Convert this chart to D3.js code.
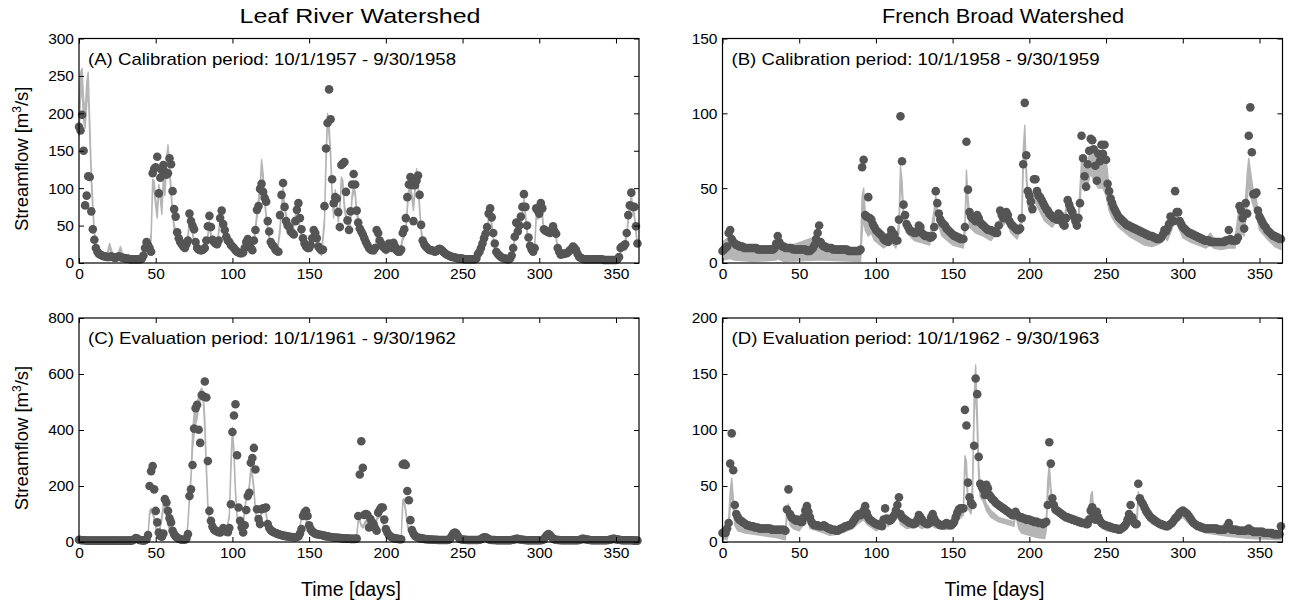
<!DOCTYPE html>
<html>
<head>
<meta charset="utf-8">
<script src="https://cdn.jsdelivr.net/npm/d3@7/dist/d3.min.js"></script>
<style>
body{margin:0;background:#fff;}
svg{display:block;}
</style>
</head>
<body>
<svg></svg>
<script>
// ---- tick values ----
const xTicks = [0,50,100,150,200,250,300,350];
const yTicksA = [0,50,100,150,200,250,300];
const yTicksB = [0,50,100,150];
const yTicksC = [0,200,400,600,800];
const yTicksD = [0,50,100,150,200];

const titles = ['Leaf River Watershed','French Broad Watershed'];
const panelLabels = [
  '(A) Calibration period: 10/1/1957 - 9/30/1958',
  '(B) Calibration period: 10/1/1958 - 9/30/1959',
  '(C) Evaluation period: 10/1/1961 - 9/30/1962',
  '(D) Evaluation period: 10/1/1962 - 9/30/1963'
];

// ---- observed daily streamflow (dots), day 0..364 ----
const obsA = [
182,177,198,150,77,90,116,115,69,45,
31,20,15,12,11,10,9,9,8,8,
8,9,8,7,7,8,9,8,7,7,
6,6,6,5,5,5,5,5,5,5,
5,6,10,20,28,24,20,15,120,126,
128,142,93,114,124,131,122,118,120,140,
132,96,72,62,41,33,28,25,22,20,
25,30,66,56,50,45,28,20,18,17,
17,18,20,30,49,63,48,31,28,26,
25,30,60,70,52,44,35,30,28,24,
22,20,17,15,14,13,13,14,20,28,
32,27,20,17,30,44,71,76,99,106,
95,87,82,56,42,28,24,22,18,16,
15,64,91,107,75,56,50,48,42,40,
38,56,71,80,60,45,33,26,22,20,
20,24,33,44,40,33,22,19,17,18,
76,153,187,232,192,112,80,88,86,68,
48,131,133,135,95,57,44,69,105,119,
105,70,54,46,42,38,33,28,24,20,
18,17,17,20,44,40,30,26,22,20,
18,22,26,24,20,27,22,17,15,15,
18,40,45,60,88,105,115,104,56,104,
110,117,91,51,30,25,22,20,18,17,
17,16,15,16,18,19,18,16,14,12,
11,10,9,8,8,7,7,6,6,6,
6,5,5,5,5,5,5,5,5,6,
12,15,20,26,33,39,48,66,73,61,
40,26,15,12,10,8,7,6,6,5,
5,6,10,20,35,54,42,50,62,75,
92,75,50,34,23,18,15,20,73,70,
66,80,73,45,43,42,41,40,44,49,
42,39,20,15,11,12,12,13,13,15,
17,19,22,20,17,12,8,7,6,5,
5,5,5,5,5,5,5,5,5,5,
5,5,4,4,4,4,4,4,4,4,
4,5,8,20,22,22,25,40,64,77,
94,75,75,49,26
];

const obsB = [
8,9,10,11,20,22,16,14,13,12,
12,11,11,11,10,10,10,10,10,10,
10,10,10,9,9,9,9,9,9,9,
9,9,9,9,10,13,18,14,12,11,
11,10,10,10,10,10,9,9,9,9,
9,9,9,9,9,8,8,8,9,10,
12,16,20,25,14,12,11,11,10,10,
10,10,9,9,9,9,9,9,9,9,
9,9,8,8,8,8,8,8,8,8,
9,64,69,32,31,44,30,29,26,24,
22,21,20,19,18,16,15,15,14,18,
22,20,19,15,15,29,98,68,39,32,
26,24,22,21,21,20,20,21,25,24,
20,19,18,18,18,17,17,18,24,48,
40,33,29,27,26,25,23,22,21,20,
19,18,18,17,17,16,16,16,24,81,
49,34,31,30,29,28,32,30,27,26,
25,24,23,22,22,22,21,21,20,20,
25,35,32,30,32,34,32,28,26,25,
24,23,22,22,23,30,66,107,72,48,
45,41,36,56,56,48,45,44,42,40,
38,36,35,33,32,31,30,30,29,33,
32,28,26,25,30,42,39,36,34,31,
28,25,30,40,85,70,58,51,66,75,
83,82,76,65,55,73,68,79,73,79,
69,53,48,43,40,37,35,33,31,30,
29,28,27,26,25,25,24,24,23,23,
22,22,21,21,20,20,19,19,18,18,
18,17,17,16,16,16,17,19,22,21,
23,26,31,28,28,48,34,34,28,26,
24,23,22,21,20,20,19,19,18,18,
17,17,16,16,15,15,15,15,14,14,
14,14,14,14,14,14,14,14,15,15,
22,16,15,15,15,15,17,38,35,30,
23,40,33,85,104,74,46,46,47,35,
31,29,27,25,24,22,21,20,19,18,
18,17,17,16,16
];

const obsC = [
8,7,6,6,6,5,5,5,5,5,
5,5,5,5,5,5,5,5,5,5,
5,5,5,5,5,5,5,5,5,5,
5,5,5,5,5,6,10,14,12,8,
6,6,5,6,10,25,200,253,271,188,
111,70,34,22,19,30,153,141,111,85,
70,40,28,20,15,12,10,8,8,8,
12,28,164,188,275,405,478,490,401,354,
525,520,573,516,289,111,76,55,45,40,
38,35,34,40,50,45,38,35,50,135,
393,452,492,310,123,76,52,34,60,114,
164,176,283,300,336,259,117,82,64,117,
120,121,123,64,50,42,38,35,32,30,
28,26,24,23,22,21,20,19,18,18,
17,17,18,20,30,46,93,105,111,93,
60,45,38,33,30,28,27,26,25,24,
22,21,20,19,18,17,16,16,15,15,
14,14,13,13,12,12,12,11,11,11,
11,12,93,241,360,265,97,100,97,52,
82,70,64,50,40,105,115,123,123,80,
46,34,25,20,16,14,13,12,11,10,
10,277,280,275,182,149,78,43,30,22,
18,16,14,13,12,11,10,10,9,9,
9,8,8,8,7,7,7,7,7,7,
7,8,12,22,30,34,30,20,12,10,
9,8,8,7,7,7,7,7,7,7,
7,8,10,14,17,17,14,10,8,7,
7,7,6,6,6,6,6,6,6,6,
6,6,7,8,10,11,11,10,9,8,
7,7,6,6,6,6,6,6,6,6,
6,6,7,10,18,25,28,25,18,12,
9,8,7,7,6,6,6,6,6,6,
6,6,6,6,6,6,7,9,11,11,
10,9,8,7,6,6,6,6,6,6,
6,6,6,6,6,7,8,10,11,11,
10,9,8,7,6,6,6,6,6,6,
6,6,5,5,5
];

const obsD = [
8,9,8,12,17,70,97,64,33,25,
22,20,19,18,17,16,15,15,14,14,
14,13,13,13,12,12,12,12,12,12,
12,12,11,11,11,11,11,11,11,11,
11,10,29,47,25,22,21,20,19,20,
19,18,18,22,28,32,27,22,18,16,
15,15,15,14,14,14,15,14,13,12,
12,11,11,11,10,10,11,12,12,13,
14,14,15,15,16,18,20,22,24,25,
24,25,28,32,26,22,20,19,18,17,
16,16,15,15,14,20,30,21,20,19,
20,22,24,28,33,40,25,22,21,20,
19,18,17,17,16,16,17,20,24,22,
20,18,17,16,16,17,22,25,21,18,
17,16,15,15,15,16,17,16,15,15,
16,18,22,26,29,30,30,30,118,104,
53,40,35,33,86,146,132,76,52,49,
47,42,51,48,42,40,38,37,35,34,
33,32,31,30,29,28,27,26,25,24,
24,27,24,23,22,22,21,21,20,20,
20,19,19,18,18,18,17,17,17,16,
17,18,33,89,70,39,33,29,28,27,
26,25,24,23,22,22,21,21,20,20,
19,19,18,18,17,17,17,16,16,20,
28,31,24,20,27,22,19,17,16,15,
15,14,14,13,13,12,12,12,11,11,
12,13,14,16,20,25,33,22,18,16,
16,52,39,36,34,31,28,26,24,22,
21,20,19,18,17,16,16,15,15,14,
14,15,16,17,19,21,22,24,26,27,
28,27,26,25,23,21,19,17,16,15,
14,14,13,13,12,12,12,12,12,12,
12,12,12,11,11,11,11,11,12,14,
17,12,11,11,11,11,10,10,10,10,
10,10,11,12,10,10,9,9,9,9,
9,9,9,8,8,8,8,8,8,7,
7,7,7,7,14
];

// ---- simulated uncertainty range (grey band): [day, low, high] ----
const bandA = [
[0,170,215],[1,220,255],[2,230,260],[3,190,220],[4,180,200],[5,210,240],[6,235,255],[7,170,190],
[8,110,125],[9,70,80],[10,38,45],[11,22,27],[12,12,16],[15,6,9],[18,8,11],[20,20,26],[22,8,11],
[25,6,9],[27,17,22],[29,5,8],[35,3,5],[41,3,5],[43,18,24],[45,14,18],[47,30,40],[48,100,112],
[49,95,110],[50,75,85],[51,60,70],[52,95,105],[53,85,95],[54,65,75],[55,105,115],[56,90,100],
[57,125,140],[58,145,158],[59,120,135],[60,90,100],[61,65,72],[62,45,52],[64,30,35],[66,22,26],
[68,18,20],[70,15,18],[72,50,58],[73,55,62],[74,38,42],[76,15,18],[80,12,15],[83,18,22],
[85,50,56],[86,35,40],[88,22,26],[90,20,24],[92,55,62],[93,60,68],[95,38,42],[97,28,32],
[100,15,18],[105,10,12],[108,12,15],[110,28,32],[112,15,18],[114,25,30],[116,60,68],[118,95,105],
[119,128,138],[120,110,120],[121,80,88],[122,60,66],[124,30,35],[126,18,22],[129,10,13],[131,40,48],
[133,95,102],[134,72,78],[136,50,55],[138,35,40],[140,50,56],[142,65,72],[144,45,50],[146,25,30],
[149,15,18],[152,30,35],[153,40,45],[155,25,30],[158,10,14],[160,50,60],[161,130,145],[162,190,200],
[163,170,185],[164,140,150],[165,85,95],[166,60,70],[167,90,98],[168,75,82],[169,55,62],[170,70,78],
[171,105,115],[172,100,110],[173,70,78],[175,50,55],[176,40,45],[177,55,62],[178,85,92],[179,95,102],
[180,90,96],[181,65,72],[183,45,50],[186,30,34],[190,15,18],[193,12,15],[194,35,40],[196,22,26],
[200,12,15],[205,18,22],[209,12,15],[211,30,35],[213,40,45],[214,70,78],[215,95,102],[216,95,103],
[217,85,92],[218,70,78],[219,95,102],[220,118,126],[221,100,108],[222,70,78],[223,40,45],[225,20,24],
[228,14,17],[232,12,15],[235,13,16],[240,8,10],[250,4,6],[259,4,6],[261,10,14],[264,25,30],
[266,40,45],[267,55,62],[268,62,68],[269,50,56],[270,30,35],[272,12,15],[276,6,8],[282,5,7],
[284,30,35],[285,45,50],[286,38,42],[288,50,56],[289,62,68],[290,80,86],[291,62,68],[292,40,45],
[294,18,22],[296,12,15],[297,18,22],[298,58,65],[300,60,66],[301,70,76],[302,60,66],[303,42,46],
[306,38,42],[309,42,46],[311,32,36],[312,18,22],[314,10,12],[318,10,12],[320,15,18],[322,18,22],
[324,14,16],[326,7,9],[330,4,6],[352,4,6],[353,14,18],[355,18,22],[357,35,40],[358,55,62],
[359,70,76],[360,85,92],[361,68,75],[362,60,66],[363,40,45],[364,22,26]
];

const bandB = [
[0,2,14],[5,3,18],[8,2,12],[20,1,10],[35,2,12],[36,3,16],[40,1,10],[62,2,18],[65,2,11],[90,1,9],
[91,20,45],[92,30,50],[93,22,35],[95,18,28],[97,20,32],[99,15,22],[105,10,16],[110,14,20],[113,10,14],
[115,20,28],[116,55,65],[117,45,55],[118,28,35],[120,20,26],[125,15,20],[135,12,16],[138,28,36],
[139,38,45],[140,28,35],[143,18,24],[150,12,16],[157,10,14],[158,20,28],[159,52,62],[160,35,45],
[161,24,30],[165,20,26],[170,18,23],[175,15,20],[180,22,28],[183,25,30],[185,28,32],[188,20,24],
[192,16,20],[195,24,30],[196,60,75],[197,80,92],[198,55,65],[199,38,45],[201,33,40],[203,42,50],
[205,38,44],[210,28,34],[215,24,28],[219,30,35],[222,22,26],[225,38,44],[227,36,42],[230,24,28],
[232,25,32],[234,55,68],[236,48,62],[238,52,66],[240,60,78],[242,55,75],[245,50,72],[248,50,76],
[250,45,70],[252,35,50],[254,30,40],[258,24,32],[265,18,24],[270,15,20],[275,12,17],[280,11,16],
[285,13,18],[288,18,24],[290,15,22],[292,20,28],[295,28,36],[297,24,30],[300,17,24],[305,14,20],
[310,12,18],[315,10,16],[318,12,20],[320,10,17],[325,9,15],[330,10,16],[334,10,16],[336,20,32],
[338,20,34],[340,18,28],[342,40,60],[343,55,70],[344,45,62],[346,38,48],[348,32,42],[350,22,30],
[355,16,22],[360,11,17],[364,9,15]
];

const bandC = [
[0,2,5],[44,2,5],[45,20,30],[46,95,110],[47,110,120],[48,100,112],[49,80,90],[50,50,60],[52,25,30],
[54,80,95],[55,120,135],[56,115,130],[58,60,70],[60,30,38],[63,12,16],[68,5,8],[70,8,12],[71,60,70],
[72,150,170],[73,220,240],[74,330,390],[75,380,460],[76,420,480],[77,440,500],[78,480,520],[79,510,540],
[80,520,550],[81,500,530],[82,400,440],[83,250,280],[84,120,140],[85,60,70],[87,35,42],[90,25,30],
[93,22,27],[96,30,35],[98,90,100],[99,250,280],[100,390,410],[101,300,330],[102,170,190],[103,90,100],
[104,55,62],[106,45,50],[107,60,70],[108,110,120],[109,150,160],[110,160,172],[111,190,205],[112,250,265],
[113,230,245],[114,180,195],[115,110,120],[116,65,72],[117,55,60],[118,75,85],[119,100,110],[120,110,120],
[121,120,128],[122,95,105],[123,60,68],[125,38,42],[130,25,28],[135,18,21],[140,15,18],[143,18,22],
[144,45,55],[145,85,95],[146,95,105],[147,88,96],[149,60,68],[151,38,42],[155,25,28],[165,14,16],
[180,8,10],[181,20,25],[182,70,80],[183,75,82],[184,55,62],[185,50,58],[186,60,68],[187,70,78],
[188,65,72],[189,55,62],[191,45,50],[193,40,45],[194,75,85],[195,85,92],[196,90,96],[197,85,92],
[198,70,78],[199,40,46],[201,22,26],[205,12,14],[210,10,12],[211,130,150],[212,140,155],[213,100,115],
[214,60,70],[215,35,42],[217,22,26],[220,14,16],[230,7,8],[242,8,10],[244,25,30],[246,28,32],
[248,10,12],[255,5,6],[264,12,15],[266,10,12],[270,5,6],[285,8,10],[290,5,6],[303,8,10],
[306,22,26],[309,10,12],[320,5,6],[328,8,10],[333,5,6],[347,8,10],[352,5,6],[364,4,5]
];

const bandD = [
[0,3,12],[3,2,10],[4,8,20],[5,30,45],[6,45,57],[7,30,40],[8,15,25],[10,10,18],[15,8,15],[25,6,12],
[35,4,11],[41,2,10],[42,20,30],[43,25,34],[44,15,22],[46,12,18],[50,10,16],[54,18,24],[55,22,28],
[57,12,18],[62,10,14],[70,6,11],[76,7,12],[85,12,18],[88,16,22],[92,20,26],[94,16,22],[100,10,14],
[105,14,20],[106,18,24],[108,14,18],[113,22,28],[114,28,36],[116,16,22],[120,12,17],[128,14,20],
[130,12,16],[136,16,22],[138,13,17],[145,11,15],[150,12,16],[154,20,26],[157,24,32],[158,65,77],
[159,60,72],[160,30,40],[162,25,32],[163,40,55],[164,110,130],[165,140,158],[166,100,120],[167,55,70],
[168,40,48],[170,36,42],[172,28,34],[175,22,28],[180,18,22],[190,14,18],[191,25,30],[193,12,20],
[195,8,20],[205,4,18],[210,3,17],[211,10,20],[212,40,55],[213,60,70],[214,40,50],[215,30,36],
[217,26,30],[225,18,22],[235,14,18],[239,18,25],[240,30,42],[241,35,45],[242,22,28],[244,18,22],
[250,10,14],[260,8,12],[265,18,24],[266,22,28],[268,14,18],[270,14,22],[271,35,45],[272,34,40],
[275,24,28],[280,16,20],[290,11,15],[295,18,22],[300,22,26],[305,15,20],[315,8,12],[330,5,12],
[345,3,9],[364,2,8]
];

// ---- layout ----
const W = 1290, H = 603;
const dotColor = '#555555';
const bandColor = '#b5b5b5';
const tickFont = 'Liberation Sans, Arial, sans-serif';

const svg = d3.select('svg').attr('width', W).attr('height', H);
svg.append('rect').attr('width', W).attr('height', H).attr('fill', '#fff');

const panels = [
  {obs: obsA, band: bandA, yMax: 300, yTicks: yTicksA, left: 79, right: 639, top: 38.5, bottom: 263, label: panelLabels[0]},
  {obs: obsB, band: bandB, yMax: 150, yTicks: yTicksB, left: 722.5, right: 1282.5, top: 38.5, bottom: 263, label: panelLabels[1]},
  {obs: obsC, band: bandC, yMax: 800, yTicks: yTicksC, left: 79, right: 639, top: 318, bottom: 542, label: panelLabels[2]},
  {obs: obsD, band: bandD, yMax: 200, yTicks: yTicksD, left: 722.5, right: 1282.5, top: 318, bottom: 542, label: panelLabels[3]}
];

function styleAxis(sel) {
  sel.select('.domain').remove();
  sel.selectAll('line').attr('stroke', '#000').attr('stroke-width', 1);
  sel.selectAll('text').attr('font-family', tickFont).attr('font-size', 15.5).attr('fill', '#000');
}

panels.forEach((p, idx) => {
  const x = d3.scaleLinear().domain([0, 365]).range([p.left, p.right]);
  const y = d3.scaleLinear().domain([0, p.yMax]).range([p.bottom, p.top]);
  const g = svg.append('g');

  // grey band
  const area = d3.area()
    .x(d => x(d[0]))
    .y0(d => y(d[1]))
    .y1(d => y(d[2]));
  g.append('path')
    .datum(p.band)
    .attr('d', area)
    .attr('fill', bandColor)
    .attr('stroke', bandColor)
    .attr('stroke-width', 1.4)
    .attr('stroke-linejoin', 'round');

  // observed dots
  g.selectAll('.obs')
    .data(p.obs)
    .enter()
    .append('circle')
    .attr('class', 'obs')
    .attr('cx', (d, i) => x(i))
    .attr('cy', d => y(d))
    .attr('r', 4.3)
    .attr('fill', dotColor);

  // axes (ticks inward on all four sides)
  g.append('g').attr('transform', `translate(${p.left},0)`)
    .call(d3.axisLeft(y).tickValues(p.yTicks).tickSize(-5).tickPadding(5))
    .call(styleAxis);
  g.append('g').attr('transform', `translate(${p.right},0)`)
    .call(d3.axisRight(y).tickValues(p.yTicks).tickSize(-5).tickFormat(''))
    .call(styleAxis);
  g.append('g').attr('transform', `translate(0,${p.bottom})`)
    .call(d3.axisBottom(x).tickValues(xTicks).tickSize(-5).tickPadding(5))
    .call(styleAxis);
  g.append('g').attr('transform', `translate(0,${p.top})`)
    .call(d3.axisTop(x).tickValues(xTicks).tickSize(-5).tickFormat(''))
    .call(styleAxis);

  // frame
  g.append('rect')
    .attr('x', p.left).attr('y', p.top)
    .attr('width', p.right - p.left).attr('height', p.bottom - p.top)
    .attr('fill', 'none').attr('stroke', '#000').attr('stroke-width', 1.2);

  // panel annotation
  g.append('text')
    .attr('x', p.left + 9)
    .attr('y', p.top + 26)
    .attr('font-family', tickFont)
    .attr('font-size', 17)
    .attr('textLength', 368)
    .attr('lengthAdjust', 'spacingAndGlyphs')
    .text(p.label);

  // y label on left column
  if (idx % 2 === 0) {
    const cy = (p.top + p.bottom) / 2 + 8;
    const t = svg.append('text')
      .attr('transform', `translate(28,${cy}) rotate(-90)`)
      .attr('text-anchor', 'middle')
      .attr('font-family', tickFont)
      .attr('font-size', 18.5);
    t.append('tspan').text('Streamflow [m');
    t.append('tspan').attr('dy', -7).attr('font-size', 12).text('3');
    t.append('tspan').attr('dy', 7).text('/s]');
  }

  // x label on bottom row
  if (idx >= 2) {
    svg.append('text')
      .attr('x', (p.left + p.right) / 2 - 8)
      .attr('y', 596)
      .attr('text-anchor', 'middle')
      .attr('font-family', tickFont)
      .attr('font-size', 19.5)
      .text('Time [days]');
  }
});

// column titles
svg.selectAll('.col-title')
  .data(titles)
  .enter()
  .append('text')
  .attr('class', 'col-title')
  .attr('x', (d, i) => i === 0 ? 360 : 1003)
  .attr('y', 23)
  .attr('text-anchor', 'middle')
  .attr('font-family', tickFont)
  .attr('font-size', 21)
  .attr('textLength', (d, i) => i === 0 ? 241 : 242)
  .attr('lengthAdjust', 'spacingAndGlyphs')
  .text(d => d);
</script>
</body>
</html>
